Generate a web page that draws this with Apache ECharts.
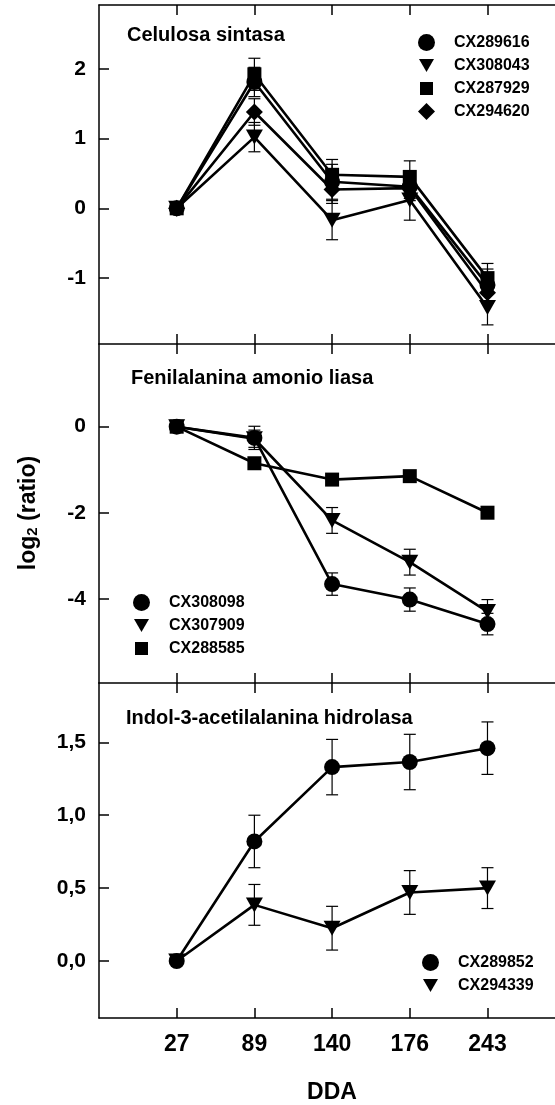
<!DOCTYPE html>
<html>
<head>
<meta charset="utf-8">
<script src="https://cdn.jsdelivr.net/npm/echarts@6/dist/echarts.min.js"></script>
<style>
  html, body { margin: 0; padding: 0; background: #fff; }
  #chart { width: 555px; height: 1105px; }
</style>
</head>
<body>
<div id="chart"></div>
<script>
// Sampling days (DDA)
const days = ['27', '89', '140', '176', '243'];

// Celulosa sintasa: log2(ratio) means and error bars
const cx289616 = [0, 1.81, 0.38, 0.31, -1.10];
const cx289616Err = [0, 0.21, 0.25, 0.20, 0.23];
const cx308043 = [0, 1.02, -0.17, 0.12, -1.42];
const cx308043Err = [0, 0.21, 0.28, 0.29, 0.25];
const cx287929 = [0, 1.92, 0.48, 0.45, -1.00];
const cx287929Err = [0, 0.23, 0.22, 0.23, 0.21];
const cx294620 = [0, 1.38, 0.27, 0.29, -1.21];
const cx294620Err = [0, 0.19, 0.20, 0.15, 0.15];

// Fenilalanina amonio liasa
const cx308098 = [0, -0.26, -3.66, -4.02, -4.59];
const cx308098Err = [0, 0.27, 0.26, 0.27, 0.25];
const cx307909 = [0, -0.28, -2.18, -3.15, -4.30];
const cx307909Err = [0, 0.20, 0.30, 0.30, 0.28];
const cx288585 = [0, -0.85, -1.23, -1.15, -2.00];
const cx288585Err = [0, 0.10, 0.12, 0.12, 0.10];

// Indol-3-acetilalanina hidrolasa
const cx289852 = [0, 0.82, 1.33, 1.365, 1.46];
const cx289852Err = [0, 0.18, 0.19, 0.19, 0.18];
const cx294339 = [0, 0.385, 0.225, 0.47, 0.50];
const cx294339Err = [0, 0.14, 0.15, 0.15, 0.14];

// Tick values
const yTicks1 = [-1, 0, 1, 2];
const yTicks2 = [-4, -2, 0];
const yTicks3 = [0, 0.5, 1, 1.5];
const xTicks = [1, 2, 3, 4, 5];

const FONT = 'Liberation Sans, Arial, Helvetica, sans-serif';
const BLACK = '#000';

const SYMBOLS = {
  circle: { symbol: 'circle', size: 16, legend: 'circle' },
  down: { symbol: 'path://M0,0L20,0L10,17Z', size: [17, 15], legend: 'path://M0,0M17,17M1,2L16,2L8.5,15Z' },
  square: { symbol: 'rect', size: 14, legend: 'path://M0,0M17,17M2,2L15,2L15,15L2,15Z' },
  diamond: { symbol: 'diamond', size: 17, legend: 'diamond' }
};

const panels = [
  {
    title: 'Celulosa sintasa', titleX: 127, titleY: 35,
    min: -1.944, max: 2.913, ticks: yTicks1, fmt: v => String(v),
    top: 5, height: 339,
    legend: { left: 413, top: 29 },
    series: [
      { name: 'CX289616', values: cx289616, err: cx289616Err, shape: 'circle' },
      { name: 'CX308043', values: cx308043, err: cx308043Err, shape: 'down' },
      { name: 'CX287929', values: cx287929, err: cx287929Err, shape: 'square' },
      { name: 'CX294620', values: cx294620, err: cx294620Err, shape: 'diamond' }
    ]
  },
  {
    title: 'Fenilalanina amonio liasa', titleX: 131, titleY: 378,
    min: -5.96, max: 1.923, ticks: yTicks2, fmt: v => String(v),
    top: 344, height: 339,
    legend: { left: 128, top: 589 },
    series: [
      { name: 'CX308098', values: cx308098, err: cx308098Err, shape: 'circle' },
      { name: 'CX307909', values: cx307909, err: cx307909Err, shape: 'down' },
      { name: 'CX288585', values: cx288585, err: cx288585Err, shape: 'square' }
    ]
  },
  {
    title: 'Indol-3-acetilalanina hidrolasa', titleX: 126, titleY: 718,
    min: -0.391, max: 1.907, ticks: yTicks3, fmt: v => v.toFixed(1).replace('.', ','),
    top: 683, height: 335,
    legend: { left: 417, top: 949 },
    series: [
      { name: 'CX289852', values: cx289852, err: cx289852Err, shape: 'circle' },
      { name: 'CX294339', values: cx294339, err: cx294339Err, shape: 'down' }
    ]
  }
];

const axisLineStyle = { color: BLACK, width: 1.5 };
// the category slots continue past the right edge of the page
const X_MAX = 5.869;

function errorBars(params, api) {
  const x = api.value(0), y = api.value(1), e = api.value(2);
  if (!(e > 0)) return null;
  const hi = api.coord([x, y + e]);
  const lo = api.coord([x, y - e]);
  const hw = 6;
  const style = { stroke: BLACK, lineWidth: 1.2 };
  return {
    type: 'group',
    children: [
      { type: 'line', shape: { x1: hi[0], y1: hi[1], x2: lo[0], y2: lo[1] }, style },
      { type: 'line', shape: { x1: hi[0] - hw, y1: hi[1], x2: hi[0] + hw, y2: hi[1] }, style },
      { type: 'line', shape: { x1: lo[0] - hw, y1: lo[1], x2: lo[0] + hw, y2: lo[1] }, style }
    ]
  };
}

const grid = [], xAxis = [], yAxis = [], series = [], legend = [], graphic = [];

panels.forEach((p, g) => {
  const isLast = g === panels.length - 1;
  grid.push({ left: 99, right: 0, top: p.top, height: p.height });

  // bottom axis (ticks pointing up into the panel)
  xAxis.push({
    gridIndex: g, type: 'value', min: 0, max: X_MAX, position: 'bottom',
    axisLine: { show: isLast, onZero: false, lineStyle: axisLineStyle },
    axisTick: { show: true, inside: true, length: 10, customValues: xTicks, lineStyle: axisLineStyle },
    axisLabel: {
      show: isLast, customValues: xTicks, margin: 15,
      formatter: v => days[v - 1],
      fontSize: 23, fontWeight: 'bold', fontFamily: FONT, color: BLACK
    },
    splitLine: { show: false }
  });
  // top axis (ticks pointing down into the panel)
  xAxis.push({
    gridIndex: g, type: 'value', min: 0, max: X_MAX, position: 'top',
    axisLine: { show: true, onZero: false, lineStyle: axisLineStyle },
    axisTick: { show: true, inside: true, length: 10, customValues: xTicks, lineStyle: axisLineStyle },
    axisLabel: { show: false },
    splitLine: { show: false }
  });

  yAxis.push({
    gridIndex: g, type: 'value', min: p.min, max: p.max, position: 'left',
    axisLine: { show: true, onZero: false, lineStyle: axisLineStyle },
    axisTick: { show: true, inside: true, length: 10, customValues: p.ticks, lineStyle: axisLineStyle },
    axisLabel: {
      customValues: p.ticks, margin: 13, formatter: p.fmt,
      fontSize: 21, fontWeight: 'bold', fontFamily: FONT, color: BLACK
    },
    splitLine: { show: false }
  });

  p.series.forEach(s => {
    const sym = SYMBOLS[s.shape];
    series.push({
      type: 'custom', xAxisIndex: 2 * g, yAxisIndex: g, silent: true, z: 2,
      data: s.values.map((v, i) => [i + 1, v, s.err[i]]),
      renderItem: errorBars
    });
    series.push({
      type: 'line', name: s.name, xAxisIndex: 2 * g, yAxisIndex: g, z: 3,
      data: s.values.map((v, i) => [i + 1, v]),
      symbol: sym.symbol, symbolSize: sym.size, showAllSymbol: true,
      lineStyle: { color: BLACK, width: 2.6 },
      itemStyle: { color: BLACK, opacity: 1 },
      emphasis: { disabled: true }
    });
  });

  legend.push({
    orient: 'vertical', left: p.legend.left, top: p.legend.top,
    itemWidth: 17, itemHeight: 17, itemGap: 6, selectedMode: false,
    data: p.series.map(s => ({ name: s.name, icon: SYMBOLS[s.shape].legend })),
    itemStyle: { color: BLACK },
    textStyle: { fontSize: 16, fontWeight: 'bold', fontFamily: FONT, color: BLACK, padding: [0, 0, 0, 14] }
  });

  graphic.push({
    type: 'text', x: p.titleX, y: p.titleY,
    style: {
      text: p.title, fill: BLACK, fontSize: 20, fontWeight: 'bold', fontFamily: FONT,
      align: 'left', verticalAlign: 'middle'
    }
  });
});

// x-axis title
graphic.push({
  type: 'text', x: 332, y: 1093,
  style: {
    text: 'DDA', fill: BLACK, fontSize: 23, fontWeight: 'bold', fontFamily: FONT,
    align: 'center', verticalAlign: 'middle'
  }
});

// Shared y-axis title: log2 (ratio)
graphic.push({
  type: 'text', x: 29, y: 513, rotation: Math.PI / 2,
  style: {
    text: '{a|log}{s|2}{a| (ratio)}',
    align: 'center', verticalAlign: 'middle', fill: BLACK,
    rich: {
      a: { fontSize: 23, fontWeight: 'bold', fontFamily: FONT, lineHeight: 23, verticalAlign: 'top' },
      s: { fontSize: 15, fontWeight: 'bold', fontFamily: FONT, lineHeight: 15, padding: [15, 0, 0, 0], verticalAlign: 'bottom' }
    }
  }
});

const chart = echarts.init(document.getElementById('chart'), null, { renderer: 'canvas' });
chart.setOption({
  animation: false,
  backgroundColor: '#fff',
  grid, xAxis, yAxis, series, legend, graphic
});
</script>
</body>
</html>
